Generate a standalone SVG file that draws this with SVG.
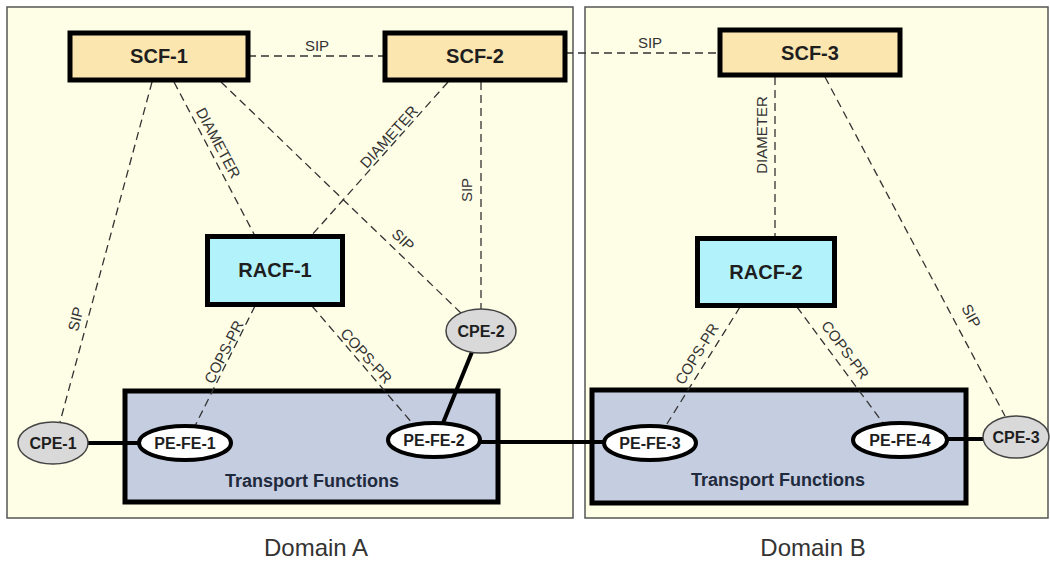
<svg xmlns="http://www.w3.org/2000/svg" width="1050" height="561" viewBox="0 0 1050 561">
<defs>
<style>
.panel{fill:#fefde6;stroke:#555;stroke-width:1.5}
.scf{fill:#fce6b0;stroke:#000;stroke-width:5}
.racf{fill:#b2f3fb;stroke:#000;stroke-width:5}
.tf{fill:#c5cde0;stroke:#000;stroke-width:5}
.pe{fill:#fff;stroke:#000;stroke-width:4}
.cpe{fill:#d9d9d9;stroke:#444;stroke-width:1.5}
.dash{fill:none;stroke:#333;stroke-width:1.3;stroke-dasharray:8 5}
.solid{fill:none;stroke:#000;stroke-width:4}
.bt{font-family:"Liberation Sans",Arial,sans-serif;font-weight:bold;fill:#1e1e1e;text-anchor:middle}
.big{font-size:20px}
.mid{font-size:16px}
.tft{font-size:18px;fill:#1f2a3c}
.lbl{font-family:"Liberation Sans",Arial,sans-serif;font-size:15px;fill:#333;text-anchor:middle}
.dom{font-family:"Liberation Sans",Arial,sans-serif;font-size:24px;fill:#333;text-anchor:middle}
</style>
</defs>
<rect width="1050" height="561" fill="#fff"/>
<g id="domainA">
<rect class="panel" x="7" y="7" width="566" height="511"/>
<text class="dom" x="316" y="556">Domain A</text>
</g>
<g id="domainB">
<rect class="panel" x="585" y="7" width="463" height="511"/>
<text class="dom" x="813" y="556">Domain B</text>
</g>
<g id="tfA">
<rect class="tf" x="125" y="391" width="373" height="111"/>
<text class="bt tft" x="312" y="487">Transport Functions</text>
</g>
<g id="tfB">
<rect class="tf" x="592" y="390" width="374" height="113"/>
<text class="bt tft" x="778" y="486">Transport Functions</text>
</g>
<g id="connectors">
<line class="dash" x1="248" y1="56" x2="385" y2="56"/>
<text class="lbl" x="317" y="51">SIP</text>
<line class="dash" x1="565" y1="53" x2="720" y2="53"/>
<text class="lbl" x="650" y="48">SIP</text>
<line class="dash" x1="152" y1="82" x2="60" y2="422"/>
<text class="lbl" transform="translate(76,319) rotate(-75)" y="5">SIP</text>
<line class="dash" x1="174" y1="82" x2="255" y2="236"/>
<text class="lbl" transform="translate(218,143) rotate(62)" y="5">DIAMETER</text>
<line class="dash" x1="448" y1="82" x2="311" y2="236"/>
<text class="lbl" transform="translate(389,137) rotate(-48)" y="5">DIAMETER</text>
<line class="dash" x1="221" y1="82" x2="461" y2="313"/>
<text class="lbl" transform="translate(403,240) rotate(44)" y="5">SIP</text>
<line class="dash" x1="481" y1="82" x2="481" y2="309"/>
<text class="lbl" transform="translate(467,190) rotate(-90)" y="5">SIP</text>
<line class="dash" x1="255" y1="306" x2="195" y2="426"/>
<text class="lbl" transform="translate(224,352) rotate(-63)" y="5">COPS-PR</text>
<line class="dash" x1="312" y1="306" x2="413" y2="424"/>
<text class="lbl" transform="translate(366,356) rotate(48)" y="5">COPS-PR</text>
<line class="dash" x1="775" y1="77" x2="775" y2="238"/>
<text class="lbl" transform="translate(762,135) rotate(-90)" y="5">DIAMETER</text>
<line class="dash" x1="825" y1="77" x2="1005" y2="416"/>
<text class="lbl" transform="translate(971,316) rotate(62)" y="5">SIP</text>
<line class="dash" x1="740" y1="307" x2="665" y2="427"/>
<text class="lbl" transform="translate(697,354) rotate(-58)" y="5">COPS-PR</text>
<line class="dash" x1="797" y1="307" x2="883" y2="423"/>
<text class="lbl" transform="translate(845,350) rotate(53)" y="5">COPS-PR</text>
<line class="solid" x1="88" y1="443" x2="140" y2="443"/>
<line class="solid" x1="472" y1="352" x2="443" y2="423"/>
<line class="solid" x1="478" y1="442" x2="606" y2="442"/>
<line class="solid" x1="946" y1="439" x2="984" y2="439"/>
</g>
<g id="scf1">
<rect class="scf" x="70" y="33" width="178" height="47"/>
<text class="bt big" x="159" y="63">SCF-1</text>
</g>
<g id="scf2">
<rect class="scf" x="385" y="33" width="180" height="47"/>
<text class="bt big" x="475" y="63">SCF-2</text>
</g>
<g id="scf3">
<rect class="scf" x="720" y="30" width="180" height="45"/>
<text class="bt big" x="810" y="60">SCF-3</text>
</g>
<g id="racf1">
<rect class="racf" x="207.5" y="236.5" width="135" height="68"/>
<text class="bt big" x="275" y="277">RACF-1</text>
</g>
<g id="racf2">
<rect class="racf" x="697.5" y="238.5" width="137" height="67"/>
<text class="bt big" x="766" y="279">RACF-2</text>
</g>
<g id="pefe1">
<ellipse class="pe" cx="185" cy="443" rx="46" ry="17"/>
<text class="bt mid" x="185" y="449">PE-FE-1</text>
</g>
<g id="pefe2">
<ellipse class="pe" cx="434" cy="440" rx="46" ry="17"/>
<text class="bt mid" x="434" y="446">PE-FE-2</text>
</g>
<g id="pefe3">
<ellipse class="pe" cx="650" cy="443" rx="46" ry="17"/>
<text class="bt mid" x="650" y="449">PE-FE-3</text>
</g>
<g id="pefe4">
<ellipse class="pe" cx="900" cy="440" rx="47" ry="17"/>
<text class="bt mid" x="900" y="446">PE-FE-4</text>
</g>
<g id="cpe1">
<ellipse class="cpe" cx="53" cy="443" rx="35" ry="21"/>
<text class="bt mid" x="53" y="449">CPE-1</text>
</g>
<g id="cpe2">
<ellipse class="cpe" cx="481" cy="331" rx="35" ry="22"/>
<text class="bt mid" x="481" y="337">CPE-2</text>
</g>
<g id="cpe3">
<ellipse class="cpe" cx="1016" cy="437" rx="33" ry="21"/>
<text class="bt mid" x="1016" y="443">CPE-3</text>
</g>
</svg>
